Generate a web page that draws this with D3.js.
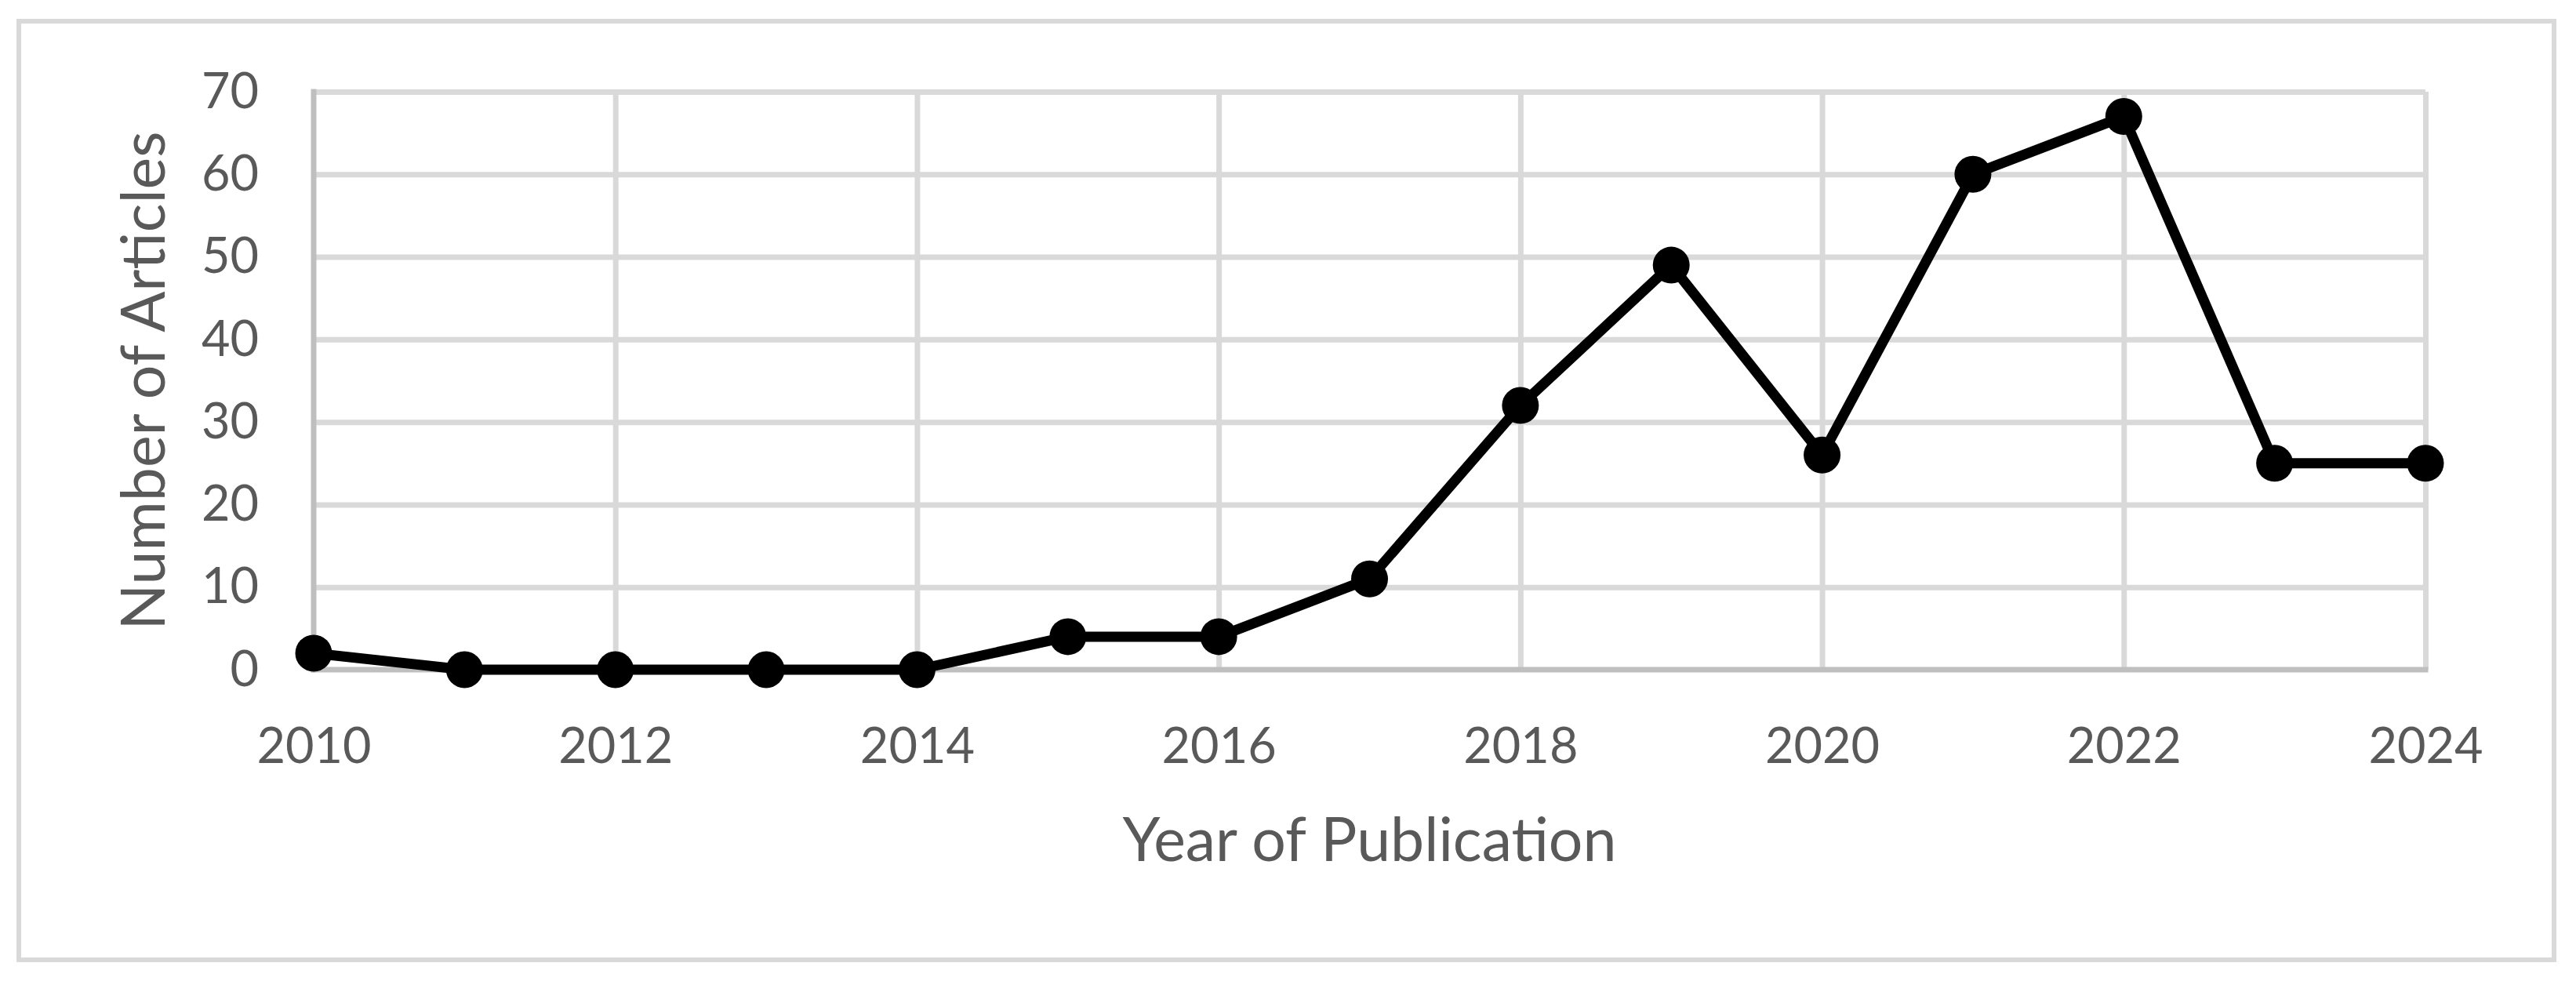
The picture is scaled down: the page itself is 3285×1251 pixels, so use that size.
<!DOCTYPE html>
<html>
<head>
<meta charset="utf-8">
<script src="https://cdn.jsdelivr.net/npm/d3@7"></script>
<style>
  html, body { margin: 0; padding: 0; background: #ffffff; }
  svg { display: block; }
  text { font-family: Lato, "Open Sans", sans-serif; fill: #595959; }
</style>
</head>
<body>
<svg id="chart" width="3285" height="1251"></svg>
<script>
// ---- data ----
const years = [2010, 2011, 2012, 2013, 2014, 2015, 2016, 2017, 2018, 2019, 2020, 2021, 2022, 2023, 2024];
const articles = [2, 0, 0, 0, 0, 4, 4, 11, 32, 49, 26, 60, 67, 25, 25];
const xTickValues = [2010, 2012, 2014, 2016, 2018, 2020, 2022, 2024];
const yTickValues = [0, 10, 20, 30, 40, 50, 60, 70];
const xTitle = "Year of Publication";
const yTitle = "Number of Articles";

// ---- layout ----
const W = 3285, H = 1251;
const plot = { left: 400, right: 3093, top: 117, bottom: 854 };

const svg = d3.select("#chart");

// outer frame
svg.append("rect")
  .attr("x", 24).attr("y", 27)
  .attr("width", 3257 - 24).attr("height", 1224 - 27)
  .attr("fill", "#ffffff")
  .attr("stroke", "#d9d9d9").attr("stroke-width", 6);

const x = d3.scaleLinear().domain([2010, 2024]).range([plot.left, plot.right]);
const y = d3.scaleLinear().domain([0, 70]).range([plot.bottom, plot.top]);

// horizontal gridlines
const yGrid = d3.axisLeft(y).tickValues(yTickValues.filter(v => v > 0))
  .tickSize(-(plot.right - plot.left)).tickFormat("");
const gy = svg.append("g").attr("transform", `translate(${plot.left},0)`).call(yGrid);
gy.select(".domain").remove();
gy.selectAll(".tick line").attr("stroke", "#d9d9d9").attr("stroke-width", 7);

// vertical gridlines
const xGrid = d3.axisBottom(x).tickValues(xTickValues.filter(v => v > 2010))
  .tickSize(-(plot.bottom - plot.top)).tickFormat("");
const gx = svg.append("g").attr("transform", `translate(0,${plot.bottom})`).call(xGrid);
gx.select(".domain").remove();
gx.selectAll(".tick line").attr("stroke", "#d9d9d9").attr("stroke-width", 7);

// axis lines
svg.append("line")
  .attr("x1", plot.left).attr("x2", plot.left)
  .attr("y1", y(70) - 3.5).attr("y2", y(0) + 3.5)
  .attr("stroke", "#bfbfbf").attr("stroke-width", 7);
svg.append("line")
  .attr("x1", plot.left - 3.5).attr("x2", plot.right + 3.5)
  .attr("y1", y(0)).attr("y2", y(0))
  .attr("stroke", "#bfbfbf").attr("stroke-width", 7);

// y tick labels
const yAxis = d3.axisLeft(y).tickValues(yTickValues).tickSize(0).tickPadding(70);
const ya = svg.append("g").attr("transform", `translate(${plot.left},0)`).call(yAxis);
ya.select(".domain").remove();
ya.selectAll("text")
  .attr("font-family", "Lato, 'Open Sans', sans-serif")
  .attr("font-size", 63).attr("fill", "#595959");

// x tick labels
const xAxis = d3.axisBottom(x).tickValues(xTickValues).tickFormat(d3.format("d")).tickSize(0).tickPadding(74);
const xa = svg.append("g").attr("transform", `translate(0,${plot.bottom})`).call(xAxis);
xa.select(".domain").remove();
xa.selectAll("text")
  .attr("font-family", "Lato, 'Open Sans', sans-serif")
  .attr("font-size", 63).attr("fill", "#595959");

// line
const data = years.map((yr, i) => ({ year: yr, value: articles[i] }));
svg.append("path")
  .datum(data)
  .attr("fill", "none")
  .attr("stroke", "#000000")
  .attr("stroke-width", 13)
  .attr("stroke-linejoin", "round")
  .attr("d", d3.line().x(d => x(d.year)).y(d => y(d.value)));

// markers
svg.selectAll("circle.marker")
  .data(data)
  .enter().append("circle")
  .attr("class", "marker")
  .attr("cx", d => x(d.year)).attr("cy", d => y(d.value))
  .attr("r", 23.5).attr("fill", "#000000");

// axis titles
svg.append("text")
  .attr("x", (plot.left + plot.right) / 2).attr("y", 1098)
  .attr("text-anchor", "middle")
  .attr("font-size", 77)
  .text(xTitle);

svg.append("text")
  .attr("transform", `translate(210,${(plot.top + plot.bottom) / 2}) rotate(-90)`)
  .attr("text-anchor", "middle")
  .attr("font-size", 77)
  .text(yTitle);
</script>
</body>
</html>
